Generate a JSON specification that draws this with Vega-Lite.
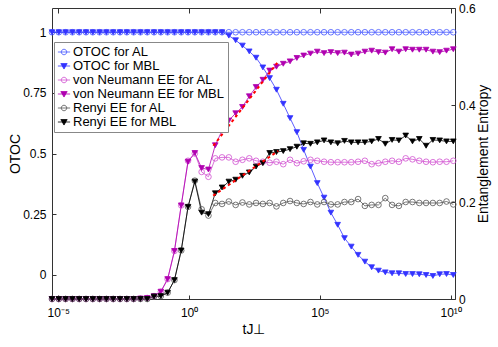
{
"$schema":"https://vega.github.io/schema/vega-lite/v6.json",
"width":403,"height":291,"autosize":"none",
"padding":{"left":52,"top":8,"right":43,"bottom":48},
"config":{"font":"Liberation Sans","view":{"stroke":"#333","strokeWidth":1},
 "axis":{"grid":false,"domain":false,"tickColor":"#333","tickWidth":1,"labelColor":"#000","labelFontSize":12,"titleColor":"#000","titleFontSize":14,"titleFontWeight":"normal","labelFont":"Liberation Sans","titleFont":"Liberation Sans"}},
"datasets":{"fits":[{"fit":"vN","t":0.93,"v":0.316},{"fit":"vN","t":3.37,"v":0.487},{"fit":"R","t":0.92,"v":0.213},{"fit":"R","t":3.41,"v":0.3055}]},
"data":{"values":[
{"series":"OTOC for AL","t":-5.24,"v":1},{"series":"OTOC for AL","t":-4.98,"v":1},{"series":"OTOC for AL","t":-4.72,"v":1},{"series":"OTOC for AL","t":-4.46,"v":1},{"series":"OTOC for AL","t":-4.2,"v":1},{"series":"OTOC for AL","t":-3.94,"v":1},{"series":"OTOC for AL","t":-3.68,"v":1},{"series":"OTOC for AL","t":-3.42,"v":1},{"series":"OTOC for AL","t":-3.16,"v":1},{"series":"OTOC for AL","t":-2.9,"v":1},{"series":"OTOC for AL","t":-2.64,"v":1},{"series":"OTOC for AL","t":-2.38,"v":1},{"series":"OTOC for AL","t":-2.12,"v":1},{"series":"OTOC for AL","t":-1.86,"v":1},{"series":"OTOC for AL","t":-1.6,"v":1},{"series":"OTOC for AL","t":-1.34,"v":1},{"series":"OTOC for AL","t":-1.08,"v":1},{"series":"OTOC for AL","t":-0.82,"v":1},{"series":"OTOC for AL","t":-0.56,"v":1},{"series":"OTOC for AL","t":-0.3,"v":1},{"series":"OTOC for AL","t":-0.04,"v":1},{"series":"OTOC for AL","t":0.22,"v":1},{"series":"OTOC for AL","t":0.48,"v":1},{"series":"OTOC for AL","t":0.74,"v":1},{"series":"OTOC for AL","t":1,"v":1},{"series":"OTOC for AL","t":1.26,"v":1},{"series":"OTOC for AL","t":1.52,"v":1},{"series":"OTOC for AL","t":1.78,"v":1},{"series":"OTOC for AL","t":2.04,"v":1},{"series":"OTOC for AL","t":2.3,"v":1},{"series":"OTOC for AL","t":2.56,"v":1},{"series":"OTOC for AL","t":2.82,"v":1},{"series":"OTOC for AL","t":3.08,"v":1},{"series":"OTOC for AL","t":3.34,"v":1},{"series":"OTOC for AL","t":3.6,"v":1},{"series":"OTOC for AL","t":3.86,"v":1},{"series":"OTOC for AL","t":4.12,"v":1},{"series":"OTOC for AL","t":4.38,"v":1},{"series":"OTOC for AL","t":4.64,"v":1},{"series":"OTOC for AL","t":4.9,"v":1},{"series":"OTOC for AL","t":5.16,"v":1},{"series":"OTOC for AL","t":5.42,"v":1},{"series":"OTOC for AL","t":5.68,"v":1},{"series":"OTOC for AL","t":5.94,"v":1},{"series":"OTOC for AL","t":6.2,"v":1},{"series":"OTOC for AL","t":6.46,"v":1},{"series":"OTOC for AL","t":6.72,"v":1},{"series":"OTOC for AL","t":6.98,"v":1},{"series":"OTOC for AL","t":7.24,"v":1},{"series":"OTOC for AL","t":7.5,"v":1},{"series":"OTOC for AL","t":7.76,"v":1},{"series":"OTOC for AL","t":8.02,"v":1},{"series":"OTOC for AL","t":8.28,"v":1},{"series":"OTOC for AL","t":8.54,"v":1},{"series":"OTOC for AL","t":8.8,"v":1},{"series":"OTOC for AL","t":9.06,"v":1},{"series":"OTOC for AL","t":9.32,"v":1},{"series":"OTOC for AL","t":9.58,"v":1},{"series":"OTOC for AL","t":9.84,"v":1},{"series":"OTOC for AL","t":10.1,"v":1},
{"series":"OTOC for MBL","t":-5.24,"v":1},{"series":"OTOC for MBL","t":-4.98,"v":1},{"series":"OTOC for MBL","t":-4.72,"v":1},{"series":"OTOC for MBL","t":-4.46,"v":1},{"series":"OTOC for MBL","t":-4.2,"v":1},{"series":"OTOC for MBL","t":-3.94,"v":1},{"series":"OTOC for MBL","t":-3.68,"v":1},{"series":"OTOC for MBL","t":-3.42,"v":1},{"series":"OTOC for MBL","t":-3.16,"v":1},{"series":"OTOC for MBL","t":-2.9,"v":1},{"series":"OTOC for MBL","t":-2.64,"v":1},{"series":"OTOC for MBL","t":-2.38,"v":1},{"series":"OTOC for MBL","t":-2.12,"v":1},{"series":"OTOC for MBL","t":-1.86,"v":1},{"series":"OTOC for MBL","t":-1.6,"v":1},{"series":"OTOC for MBL","t":-1.34,"v":1},{"series":"OTOC for MBL","t":-1.08,"v":1},{"series":"OTOC for MBL","t":-0.82,"v":1},{"series":"OTOC for MBL","t":-0.56,"v":1},{"series":"OTOC for MBL","t":-0.3,"v":1},{"series":"OTOC for MBL","t":-0.04,"v":1},{"series":"OTOC for MBL","t":0.22,"v":1},{"series":"OTOC for MBL","t":0.48,"v":1},{"series":"OTOC for MBL","t":0.74,"v":1},{"series":"OTOC for MBL","t":1,"v":1},{"series":"OTOC for MBL","t":1.26,"v":1},{"series":"OTOC for MBL","t":1.52,"v":0.986},{"series":"OTOC for MBL","t":1.78,"v":0.967},{"series":"OTOC for MBL","t":2.04,"v":0.945},{"series":"OTOC for MBL","t":2.3,"v":0.921},{"series":"OTOC for MBL","t":2.56,"v":0.895},{"series":"OTOC for MBL","t":2.82,"v":0.855},{"series":"OTOC for MBL","t":3.08,"v":0.811},{"series":"OTOC for MBL","t":3.34,"v":0.763},{"series":"OTOC for MBL","t":3.6,"v":0.705},{"series":"OTOC for MBL","t":3.86,"v":0.646},{"series":"OTOC for MBL","t":4.12,"v":0.588},{"series":"OTOC for MBL","t":4.38,"v":0.515},{"series":"OTOC for MBL","t":4.64,"v":0.446},{"series":"OTOC for MBL","t":4.9,"v":0.378},{"series":"OTOC for MBL","t":5.16,"v":0.318},{"series":"OTOC for MBL","t":5.42,"v":0.256},{"series":"OTOC for MBL","t":5.68,"v":0.206},{"series":"OTOC for MBL","t":5.94,"v":0.151},{"series":"OTOC for MBL","t":6.2,"v":0.116},{"series":"OTOC for MBL","t":6.46,"v":0.082},{"series":"OTOC for MBL","t":6.72,"v":0.054},{"series":"OTOC for MBL","t":6.98,"v":0.031},{"series":"OTOC for MBL","t":7.24,"v":0.017},{"series":"OTOC for MBL","t":7.5,"v":0.01},{"series":"OTOC for MBL","t":7.76,"v":0.006},{"series":"OTOC for MBL","t":8.02,"v":0.006},{"series":"OTOC for MBL","t":8.28,"v":0.003},{"series":"OTOC for MBL","t":8.54,"v":0.003},{"series":"OTOC for MBL","t":8.8,"v":0.002},{"series":"OTOC for MBL","t":9.06,"v":-0.001},{"series":"OTOC for MBL","t":9.32,"v":-0.005},{"series":"OTOC for MBL","t":9.58,"v":0.002},{"series":"OTOC for MBL","t":9.84,"v":0.003},{"series":"OTOC for MBL","t":10.1,"v":-0.001},
{"series":"von Neumann EE for AL","t":-5.24,"v":0},{"series":"von Neumann EE for AL","t":-4.98,"v":0},{"series":"von Neumann EE for AL","t":-4.72,"v":0},{"series":"von Neumann EE for AL","t":-4.46,"v":0},{"series":"von Neumann EE for AL","t":-4.2,"v":0},{"series":"von Neumann EE for AL","t":-3.94,"v":0},{"series":"von Neumann EE for AL","t":-3.68,"v":0},{"series":"von Neumann EE for AL","t":-3.42,"v":0},{"series":"von Neumann EE for AL","t":-3.16,"v":0},{"series":"von Neumann EE for AL","t":-2.9,"v":0},{"series":"von Neumann EE for AL","t":-2.64,"v":0},{"series":"von Neumann EE for AL","t":-2.38,"v":0},{"series":"von Neumann EE for AL","t":-2.12,"v":0},{"series":"von Neumann EE for AL","t":-1.86,"v":0.001},{"series":"von Neumann EE for AL","t":-1.6,"v":0.002},{"series":"von Neumann EE for AL","t":-1.34,"v":0.006},{"series":"von Neumann EE for AL","t":-1.08,"v":0.015},{"series":"von Neumann EE for AL","t":-0.82,"v":0.041},{"series":"von Neumann EE for AL","t":-0.56,"v":0.099},{"series":"von Neumann EE for AL","t":-0.3,"v":0.193},{"series":"von Neumann EE for AL","t":-0.04,"v":0.285},{"series":"von Neumann EE for AL","t":0.22,"v":0.3},{"series":"von Neumann EE for AL","t":0.48,"v":0.262},{"series":"von Neumann EE for AL","t":0.74,"v":0.252},{"series":"von Neumann EE for AL","t":1,"v":0.29},{"series":"von Neumann EE for AL","t":1.26,"v":0.292},{"series":"von Neumann EE for AL","t":1.52,"v":0.292},{"series":"von Neumann EE for AL","t":1.78,"v":0.283},{"series":"von Neumann EE for AL","t":2.04,"v":0.287},{"series":"von Neumann EE for AL","t":2.3,"v":0.29},{"series":"von Neumann EE for AL","t":2.56,"v":0.285},{"series":"von Neumann EE for AL","t":2.82,"v":0.283},{"series":"von Neumann EE for AL","t":3.08,"v":0.281},{"series":"von Neumann EE for AL","t":3.34,"v":0.283},{"series":"von Neumann EE for AL","t":3.6,"v":0.278},{"series":"von Neumann EE for AL","t":3.86,"v":0.287},{"series":"von Neumann EE for AL","t":4.12,"v":0.28},{"series":"von Neumann EE for AL","t":4.38,"v":0.284},{"series":"von Neumann EE for AL","t":4.64,"v":0.287},{"series":"von Neumann EE for AL","t":4.9,"v":0.285},{"series":"von Neumann EE for AL","t":5.16,"v":0.283},{"series":"von Neumann EE for AL","t":5.42,"v":0.282},{"series":"von Neumann EE for AL","t":5.68,"v":0.282},{"series":"von Neumann EE for AL","t":5.94,"v":0.282},{"series":"von Neumann EE for AL","t":6.2,"v":0.282},{"series":"von Neumann EE for AL","t":6.46,"v":0.283},{"series":"von Neumann EE for AL","t":6.72,"v":0.285},{"series":"von Neumann EE for AL","t":6.98,"v":0.278},{"series":"von Neumann EE for AL","t":7.24,"v":0.28},{"series":"von Neumann EE for AL","t":7.5,"v":0.283},{"series":"von Neumann EE for AL","t":7.76,"v":0.285},{"series":"von Neumann EE for AL","t":8.02,"v":0.283},{"series":"von Neumann EE for AL","t":8.28,"v":0.29},{"series":"von Neumann EE for AL","t":8.54,"v":0.288},{"series":"von Neumann EE for AL","t":8.8,"v":0.285},{"series":"von Neumann EE for AL","t":9.06,"v":0.283},{"series":"von Neumann EE for AL","t":9.32,"v":0.282},{"series":"von Neumann EE for AL","t":9.58,"v":0.283},{"series":"von Neumann EE for AL","t":9.84,"v":0.283},{"series":"von Neumann EE for AL","t":10.1,"v":0.285},
{"series":"von Neumann EE for MBL","t":-5.24,"v":0},{"series":"von Neumann EE for MBL","t":-4.98,"v":0},{"series":"von Neumann EE for MBL","t":-4.72,"v":0},{"series":"von Neumann EE for MBL","t":-4.46,"v":0},{"series":"von Neumann EE for MBL","t":-4.2,"v":0},{"series":"von Neumann EE for MBL","t":-3.94,"v":0},{"series":"von Neumann EE for MBL","t":-3.68,"v":0},{"series":"von Neumann EE for MBL","t":-3.42,"v":0},{"series":"von Neumann EE for MBL","t":-3.16,"v":0},{"series":"von Neumann EE for MBL","t":-2.9,"v":0},{"series":"von Neumann EE for MBL","t":-2.64,"v":0},{"series":"von Neumann EE for MBL","t":-2.38,"v":0},{"series":"von Neumann EE for MBL","t":-2.12,"v":0},{"series":"von Neumann EE for MBL","t":-1.86,"v":0.001},{"series":"von Neumann EE for MBL","t":-1.6,"v":0.002},{"series":"von Neumann EE for MBL","t":-1.34,"v":0.006},{"series":"von Neumann EE for MBL","t":-1.08,"v":0.015},{"series":"von Neumann EE for MBL","t":-0.82,"v":0.041},{"series":"von Neumann EE for MBL","t":-0.56,"v":0.099},{"series":"von Neumann EE for MBL","t":-0.3,"v":0.193},{"series":"von Neumann EE for MBL","t":-0.04,"v":0.283},{"series":"von Neumann EE for MBL","t":0.22,"v":0.301},{"series":"von Neumann EE for MBL","t":0.48,"v":0.27},{"series":"von Neumann EE for MBL","t":0.74,"v":0.267},{"series":"von Neumann EE for MBL","t":1,"v":0.317},{"series":"von Neumann EE for MBL","t":1.26,"v":0.347},{"series":"von Neumann EE for MBL","t":1.52,"v":0.368},{"series":"von Neumann EE for MBL","t":1.78,"v":0.383},{"series":"von Neumann EE for MBL","t":2.04,"v":0.396},{"series":"von Neumann EE for MBL","t":2.3,"v":0.418},{"series":"von Neumann EE for MBL","t":2.56,"v":0.437},{"series":"von Neumann EE for MBL","t":2.82,"v":0.452},{"series":"von Neumann EE for MBL","t":3.08,"v":0.471},{"series":"von Neumann EE for MBL","t":3.34,"v":0.479},{"series":"von Neumann EE for MBL","t":3.6,"v":0.485},{"series":"von Neumann EE for MBL","t":3.86,"v":0.49},{"series":"von Neumann EE for MBL","t":4.12,"v":0.497},{"series":"von Neumann EE for MBL","t":4.38,"v":0.502},{"series":"von Neumann EE for MBL","t":4.64,"v":0.506},{"series":"von Neumann EE for MBL","t":4.9,"v":0.51},{"series":"von Neumann EE for MBL","t":5.16,"v":0.507},{"series":"von Neumann EE for MBL","t":5.42,"v":0.509},{"series":"von Neumann EE for MBL","t":5.68,"v":0.507},{"series":"von Neumann EE for MBL","t":5.94,"v":0.508},{"series":"von Neumann EE for MBL","t":6.2,"v":0.504},{"series":"von Neumann EE for MBL","t":6.46,"v":0.506},{"series":"von Neumann EE for MBL","t":6.72,"v":0.51},{"series":"von Neumann EE for MBL","t":6.98,"v":0.512},{"series":"von Neumann EE for MBL","t":7.24,"v":0.509},{"series":"von Neumann EE for MBL","t":7.5,"v":0.508},{"series":"von Neumann EE for MBL","t":7.76,"v":0.515},{"series":"von Neumann EE for MBL","t":8.02,"v":0.51},{"series":"von Neumann EE for MBL","t":8.28,"v":0.515},{"series":"von Neumann EE for MBL","t":8.54,"v":0.514},{"series":"von Neumann EE for MBL","t":8.8,"v":0.514},{"series":"von Neumann EE for MBL","t":9.06,"v":0.514},{"series":"von Neumann EE for MBL","t":9.32,"v":0.51},{"series":"von Neumann EE for MBL","t":9.58,"v":0.509},{"series":"von Neumann EE for MBL","t":9.84,"v":0.512},{"series":"von Neumann EE for MBL","t":10.1,"v":0.515},
{"series":"Renyi EE for AL","t":-5.24,"v":0},{"series":"Renyi EE for AL","t":-4.98,"v":0},{"series":"Renyi EE for AL","t":-4.72,"v":0},{"series":"Renyi EE for AL","t":-4.46,"v":0},{"series":"Renyi EE for AL","t":-4.2,"v":0},{"series":"Renyi EE for AL","t":-3.94,"v":0},{"series":"Renyi EE for AL","t":-3.68,"v":0},{"series":"Renyi EE for AL","t":-3.42,"v":0},{"series":"Renyi EE for AL","t":-3.16,"v":0},{"series":"Renyi EE for AL","t":-2.9,"v":0},{"series":"Renyi EE for AL","t":-2.64,"v":0},{"series":"Renyi EE for AL","t":-2.38,"v":0},{"series":"Renyi EE for AL","t":-2.12,"v":0},{"series":"Renyi EE for AL","t":-1.86,"v":0},{"series":"Renyi EE for AL","t":-1.6,"v":0},{"series":"Renyi EE for AL","t":-1.34,"v":0.005},{"series":"Renyi EE for AL","t":-1.08,"v":0.006},{"series":"Renyi EE for AL","t":-0.82,"v":0.013},{"series":"Renyi EE for AL","t":-0.56,"v":0.039},{"series":"Renyi EE for AL","t":-0.3,"v":0.1},{"series":"Renyi EE for AL","t":-0.04,"v":0.19},{"series":"Renyi EE for AL","t":0.22,"v":0.244},{"series":"Renyi EE for AL","t":0.48,"v":0.185},{"series":"Renyi EE for AL","t":0.74,"v":0.172},{"series":"Renyi EE for AL","t":1,"v":0.198},{"series":"Renyi EE for AL","t":1.26,"v":0.196},{"series":"Renyi EE for AL","t":1.52,"v":0.201},{"series":"Renyi EE for AL","t":1.78,"v":0.194},{"series":"Renyi EE for AL","t":2.04,"v":0.199},{"series":"Renyi EE for AL","t":2.3,"v":0.195},{"series":"Renyi EE for AL","t":2.56,"v":0.198},{"series":"Renyi EE for AL","t":2.82,"v":0.196},{"series":"Renyi EE for AL","t":3.08,"v":0.198},{"series":"Renyi EE for AL","t":3.34,"v":0.191},{"series":"Renyi EE for AL","t":3.6,"v":0.198},{"series":"Renyi EE for AL","t":3.86,"v":0.202},{"series":"Renyi EE for AL","t":4.12,"v":0.198},{"series":"Renyi EE for AL","t":4.38,"v":0.196},{"series":"Renyi EE for AL","t":4.64,"v":0.2},{"series":"Renyi EE for AL","t":4.9,"v":0.195},{"series":"Renyi EE for AL","t":5.16,"v":0.2},{"series":"Renyi EE for AL","t":5.42,"v":0.195},{"series":"Renyi EE for AL","t":5.68,"v":0.195},{"series":"Renyi EE for AL","t":5.94,"v":0.2},{"series":"Renyi EE for AL","t":6.2,"v":0.2},{"series":"Renyi EE for AL","t":6.46,"v":0.206},{"series":"Renyi EE for AL","t":6.72,"v":0.192},{"series":"Renyi EE for AL","t":6.98,"v":0.194},{"series":"Renyi EE for AL","t":7.24,"v":0.194},{"series":"Renyi EE for AL","t":7.5,"v":0.208},{"series":"Renyi EE for AL","t":7.76,"v":0.194},{"series":"Renyi EE for AL","t":8.02,"v":0.192},{"series":"Renyi EE for AL","t":8.28,"v":0.2},{"series":"Renyi EE for AL","t":8.54,"v":0.2},{"series":"Renyi EE for AL","t":8.8,"v":0.198},{"series":"Renyi EE for AL","t":9.06,"v":0.198},{"series":"Renyi EE for AL","t":9.32,"v":0.198},{"series":"Renyi EE for AL","t":9.58,"v":0.198},{"series":"Renyi EE for AL","t":9.84,"v":0.201},{"series":"Renyi EE for AL","t":10.1,"v":0.195},
{"series":"Renyi EE for MBL","t":-5.24,"v":0},{"series":"Renyi EE for MBL","t":-4.98,"v":0},{"series":"Renyi EE for MBL","t":-4.72,"v":0},{"series":"Renyi EE for MBL","t":-4.46,"v":0},{"series":"Renyi EE for MBL","t":-4.2,"v":0},{"series":"Renyi EE for MBL","t":-3.94,"v":0},{"series":"Renyi EE for MBL","t":-3.68,"v":0},{"series":"Renyi EE for MBL","t":-3.42,"v":0},{"series":"Renyi EE for MBL","t":-3.16,"v":0},{"series":"Renyi EE for MBL","t":-2.9,"v":0},{"series":"Renyi EE for MBL","t":-2.64,"v":0},{"series":"Renyi EE for MBL","t":-2.38,"v":0},{"series":"Renyi EE for MBL","t":-2.12,"v":0},{"series":"Renyi EE for MBL","t":-1.86,"v":0},{"series":"Renyi EE for MBL","t":-1.6,"v":0},{"series":"Renyi EE for MBL","t":-1.34,"v":0.005},{"series":"Renyi EE for MBL","t":-1.08,"v":0.006},{"series":"Renyi EE for MBL","t":-0.82,"v":0.013},{"series":"Renyi EE for MBL","t":-0.56,"v":0.039},{"series":"Renyi EE for MBL","t":-0.3,"v":0.1},{"series":"Renyi EE for MBL","t":-0.04,"v":0.19},{"series":"Renyi EE for MBL","t":0.22,"v":0.242},{"series":"Renyi EE for MBL","t":0.48,"v":0.178},{"series":"Renyi EE for MBL","t":0.74,"v":0.175},{"series":"Renyi EE for MBL","t":1,"v":0.218},{"series":"Renyi EE for MBL","t":1.26,"v":0.23},{"series":"Renyi EE for MBL","t":1.52,"v":0.242},{"series":"Renyi EE for MBL","t":1.78,"v":0.246},{"series":"Renyi EE for MBL","t":2.04,"v":0.254},{"series":"Renyi EE for MBL","t":2.3,"v":0.261},{"series":"Renyi EE for MBL","t":2.56,"v":0.273},{"series":"Renyi EE for MBL","t":2.82,"v":0.28},{"series":"Renyi EE for MBL","t":3.08,"v":0.301},{"series":"Renyi EE for MBL","t":3.34,"v":0.303},{"series":"Renyi EE for MBL","t":3.6,"v":0.305},{"series":"Renyi EE for MBL","t":3.86,"v":0.309},{"series":"Renyi EE for MBL","t":4.12,"v":0.314},{"series":"Renyi EE for MBL","t":4.38,"v":0.321},{"series":"Renyi EE for MBL","t":4.64,"v":0.32},{"series":"Renyi EE for MBL","t":4.9,"v":0.323},{"series":"Renyi EE for MBL","t":5.16,"v":0.327},{"series":"Renyi EE for MBL","t":5.42,"v":0.323},{"series":"Renyi EE for MBL","t":5.68,"v":0.321},{"series":"Renyi EE for MBL","t":5.94,"v":0.326},{"series":"Renyi EE for MBL","t":6.2,"v":0.323},{"series":"Renyi EE for MBL","t":6.46,"v":0.323},{"series":"Renyi EE for MBL","t":6.72,"v":0.323},{"series":"Renyi EE for MBL","t":6.98,"v":0.325},{"series":"Renyi EE for MBL","t":7.24,"v":0.33},{"series":"Renyi EE for MBL","t":7.5,"v":0.32},{"series":"Renyi EE for MBL","t":7.76,"v":0.328},{"series":"Renyi EE for MBL","t":8.02,"v":0.327},{"series":"Renyi EE for MBL","t":8.28,"v":0.337},{"series":"Renyi EE for MBL","t":8.54,"v":0.325},{"series":"Renyi EE for MBL","t":8.8,"v":0.33},{"series":"Renyi EE for MBL","t":9.06,"v":0.316},{"series":"Renyi EE for MBL","t":9.32,"v":0.328},{"series":"Renyi EE for MBL","t":9.58,"v":0.327},{"series":"Renyi EE for MBL","t":9.84,"v":0.325},{"series":"Renyi EE for MBL","t":10.1,"v":0.325}
]},
"layer":[
{"transform":[{"filter":{"field":"series","oneOf":["OTOC for AL","OTOC for MBL"]}}],
 "encoding":{
  "x":{"field":"t","type":"quantitative","scale":{"domain":[-5.24,10.165],"nice":false,"zero":false},
   "axis":{"orient":"bottom","values":[-5,0,5,10],"labelExpr":"datum.value==-5?'10⁻⁵':datum.value==0?'10⁰':datum.value==5?'10⁵':'10¹⁰'","tickSize":-4,"labelPadding":12,"title":"tJ⊥","titlePadding":4}},
  "y":{"field":"v","type":"quantitative","scale":{"domain":[-0.1,1.1],"nice":false,"zero":false},
   "axis":{"orient":"left","values":[0,0.25,0.5,0.75,1],"labelExpr":"''+datum.value","tickSize":-4,"labelPadding":10,"title":"OTOC","titlePadding":0}}},
 "layer":[
  {"mark":{"type":"line","strokeWidth":0.8},
   "encoding":{"stroke":{"field":"series","type":"nominal","scale":{"domain":["OTOC for AL","OTOC for MBL","von Neumann EE for AL","von Neumann EE for MBL","Renyi EE for AL","Renyi EE for MBL"],"range":["#4455ff","#3333ff","#d050d0","#b000b0","#555555","#000000"]},"legend":null}}},
  {"mark":{"type":"point","opacity":1,"strokeWidth":0.8,"filled":true},
   "encoding":{
    "stroke":{"field":"series","type":"nominal","legend":null},
    "fill":{"field":"series","type":"nominal","scale":{"domain":["OTOC for AL","OTOC for MBL","von Neumann EE for AL","von Neumann EE for MBL","Renyi EE for AL","Renyi EE for MBL"],"range":["transparent","#3333ff","transparent","#b000b0","transparent","#000000"]},"legend":null},
    "shape":{"field":"series","type":"nominal","scale":{"domain":["OTOC for AL","OTOC for MBL","von Neumann EE for AL","von Neumann EE for MBL","Renyi EE for AL","Renyi EE for MBL"],"range":["circle","triangle-down","circle","triangle-down","circle","triangle-down"]},"legend":null},
    "size":{"value":32}}}
 ]},
{"transform":[{"filter":{"field":"series","oneOf":["von Neumann EE for AL","von Neumann EE for MBL","Renyi EE for AL","Renyi EE for MBL"]}}],
 "encoding":{
  "x":{"field":"t","type":"quantitative","scale":{"domain":[-5.24,10.165],"nice":false,"zero":false},
   "axis":{"orient":"top","values":[-5,0,5,10],"labels":false,"tickSize":-5,"title":null}},
  "y":{"field":"v","type":"quantitative","scale":{"domain":[0,0.6],"nice":false,"zero":false},
   "axis":{"orient":"right","values":[0,0.2,0.4,0.6],"labelExpr":"''+datum.value","tickSize":-4,"labelPadding":7.5,"title":"Entanglement Entropy","titleAngle":-90,"titlePadding":15}}},
 "layer":[
  {"mark":{"type":"line","strokeWidth":0.8},
   "encoding":{"stroke":{"field":"series","type":"nominal","scale":{"domain":["OTOC for AL","OTOC for MBL","von Neumann EE for AL","von Neumann EE for MBL","Renyi EE for AL","Renyi EE for MBL"],"range":["#4455ff","#3333ff","#d050d0","#b000b0","#555555","#000000"]},"legend":null}}},
  {"mark":{"type":"point","opacity":1,"strokeWidth":0.8,"filled":true},
   "encoding":{
    "stroke":{"field":"series","type":"nominal","legend":null},
    "fill":{"field":"series","type":"nominal","scale":{"domain":["OTOC for AL","OTOC for MBL","von Neumann EE for AL","von Neumann EE for MBL","Renyi EE for AL","Renyi EE for MBL"],"range":["transparent","#3333ff","transparent","#b000b0","transparent","#000000"]},"legend":null},
    "shape":{"field":"series","type":"nominal","scale":{"domain":["OTOC for AL","OTOC for MBL","von Neumann EE for AL","von Neumann EE for MBL","Renyi EE for AL","Renyi EE for MBL"],"range":["circle","triangle-down","circle","triangle-down","circle","triangle-down"]},"legend":null},
    "size":{"value":32}}},
  {"data":{"name":"fits"},"mark":{"type":"line","stroke":"#ff0000","strokeWidth":2,"strokeDash":[3,3]},
   "encoding":{"detail":{"field":"fit","type":"nominal"}}}
 ]},
{"mark":{"type":"point","opacity":0,"filled":true},
 "encoding":{
  "x":{"field":"t","type":"quantitative","axis":null},
  "y":{"field":"v","type":"quantitative","axis":null},
  "stroke":{"field":"series","type":"nominal","scale":{"domain":["OTOC for AL","OTOC for MBL","von Neumann EE for AL","von Neumann EE for MBL","Renyi EE for AL","Renyi EE for MBL"],"range":["#4455ff","#3333ff","#d050d0","#b000b0","#555555","#000000"]},"legend":{"title":null,"orient":"none","legendX":2,"legendY":34,"strokeColor":"#888","fillColor":"white","padding":3,"labelFontSize":13,"labelColor":"#000","symbolSize":150,"symbolStrokeWidth":0.8,"symbolOpacity":1,"labelOffset":2,"rowPadding":-1,"labelLimit":0}},
  "fill":{"field":"series","type":"nominal","scale":{"domain":["OTOC for AL","OTOC for MBL","von Neumann EE for AL","von Neumann EE for MBL","Renyi EE for AL","Renyi EE for MBL"],"range":["transparent","#3333ff","transparent","#b000b0","transparent","#000000"]},"legend":{"title":null,"orient":"none","legendX":2,"legendY":34,"strokeColor":"#888","fillColor":"white","padding":3,"labelFontSize":13,"labelColor":"#000","symbolSize":150,"symbolStrokeWidth":0.8,"symbolOpacity":1,"labelOffset":2,"rowPadding":-1,"labelLimit":0}},
  "shape":{"field":"series","type":"nominal","scale":{"domain":["OTOC for AL","OTOC for MBL","von Neumann EE for AL","von Neumann EE for MBL","Renyi EE for AL","Renyi EE for MBL"],"range":["M-1,0H1M0.45,0A0.45,0.45,0,1,1,-0.45,0A0.45,0.45,0,1,1,0.45,0","M-1,0H1M-0.52,-0.4H0.52L0,0.5Z","M-1,0H1M0.45,0A0.45,0.45,0,1,1,-0.45,0A0.45,0.45,0,1,1,0.45,0","M-1,0H1M-0.52,-0.4H0.52L0,0.5Z","M-1,0H1M0.45,0A0.45,0.45,0,1,1,-0.45,0A0.45,0.45,0,1,1,0.45,0","M-1,0H1M-0.52,-0.4H0.52L0,0.5Z"]},"legend":{"title":null,"orient":"none","legendX":2,"legendY":34,"strokeColor":"#888","fillColor":"white","padding":3,"labelFontSize":13,"labelColor":"#000","symbolSize":150,"symbolStrokeWidth":0.8,"symbolOpacity":1,"labelOffset":2,"rowPadding":-1,"labelLimit":0}}}}
],
"resolve":{"scale":{"y":"independent","shape":"independent","stroke":"independent","fill":"independent"},"axis":{"x":"independent"}}
}
